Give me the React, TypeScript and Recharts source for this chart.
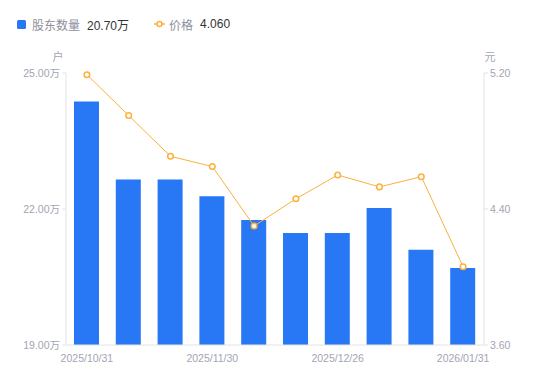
import React from 'react';
import { ComposedChart, Bar, Line, XAxis, YAxis } from 'recharts';

const dates = ['2025/10/31', '2025/11/10', '2025/11/20', '2025/11/30', '2025/12/10', '2025/12/20', '2025/12/26', '2026/01/09', '2026/01/20', '2026/01/31'];
const holders = [24.37, 22.65, 22.65, 22.28, 21.76, 21.47, 21.47, 22.02, 21.1, 20.7];
const prices = [5.19, 4.95, 4.71, 4.65, 4.3, 4.46, 4.6, 4.53, 4.59, 4.06];
const leftTicks = [19, 22, 25];
const rightTicks = [3.6, 4.4, 5.2];

const data = dates.map((d, i) => ({ date: d, holders: holders[i], price: prices[i] }));

const BLUE = '#2877f5';
const ORANGE = '#fbb13c';
const TICK = '#a2a5b3';
const AXIS = '#e2e3e8';
const FONT = 'Arial, "Liberation Sans", "Noto Sans CJK SC", sans-serif';

export default function App() {
  return (
    <div style={{ position: 'absolute', left: 0, top: 0, width: 550, height: 381, fontFamily: FONT }}>
      <div style={{ position: 'absolute', left: 17, top: 15, height: 18, display: 'flex', alignItems: 'center', fontSize: 12, zIndex: 2 }}>
        <span style={{ display: 'inline-block', width: 9, height: 9, background: BLUE, borderRadius: 1.5, marginRight: 6 }} />
        <span style={{ color: '#8d909c' }}>股东数量</span>
        <span style={{ color: '#333', marginLeft: 7 }}>20.70万</span>
        <svg width={11} height={8} style={{ marginLeft: 25, marginRight: 4 }}>
          <line x1={0} y1={4} x2={11} y2={4} stroke={ORANGE} strokeWidth={1.5} />
          <circle cx={5.5} cy={4} r={2.5} fill="#fff" stroke={ORANGE} strokeWidth={1.5} />
        </svg>
        <span style={{ color: '#8d909c' }}>价格</span>
        <span style={{ color: '#333', marginLeft: 7 }}>4.060</span>
      </div>
      <ComposedChart width={550} height={381} data={data} margin={{ top: 73, right: 6, bottom: 0, left: 6 }}>
        <XAxis
          dataKey="date"
          interval={2}
          tickLine={false}
          axisLine={{ stroke: AXIS }}
          tick={{ fill: TICK, fontSize: 10.5, fontFamily: FONT }}
          tickMargin={4}
          height={36}
        />
        <YAxis
          yAxisId="left"
          orientation="left"
          width={60}
          domain={[19, 25]}
          ticks={leftTicks}
          interval={0}
          tickFormatter={(v: number) => v.toFixed(2) + '万'}
          axisLine={{ stroke: AXIS }}
          tickLine={{ stroke: AXIS }}
          tickSize={4}
          tick={{ fill: TICK, fontSize: 10.5, fontFamily: FONT }}
          label={{
            content: (p: any) => (
              <text x={p.viewBox.x + p.viewBox.width - 8} y={p.viewBox.y - 12} textAnchor="middle" fill={TICK} fontSize={11} fontFamily={FONT}>户</text>
            ),
          }}
        />
        <YAxis
          yAxisId="right"
          orientation="right"
          width={60}
          domain={[3.6, 5.2]}
          ticks={rightTicks}
          interval={0}
          tickFormatter={(v: number) => v.toFixed(2)}
          axisLine={{ stroke: AXIS }}
          tickLine={{ stroke: AXIS }}
          tickSize={4}
          tick={{ fill: TICK, fontSize: 10.5, fontFamily: FONT }}
          label={{
            content: (p: any) => (
              <text x={p.viewBox.x + 6} y={p.viewBox.y - 12} textAnchor="middle" fill={TICK} fontSize={11} fontFamily={FONT}>元</text>
            ),
          }}
        />
        <Bar yAxisId="left" dataKey="holders" fill={BLUE} barSize={25} isAnimationActive={false} />
        <Line
          yAxisId="right"
          dataKey="price"
          type="linear"
          stroke={ORANGE}
          strokeWidth={1}
          dot={{ r: 2.8, fill: '#fff', stroke: ORANGE, strokeWidth: 1.5 }}
          activeDot={false}
          isAnimationActive={false}
        />
      </ComposedChart>
    </div>
  );
}
